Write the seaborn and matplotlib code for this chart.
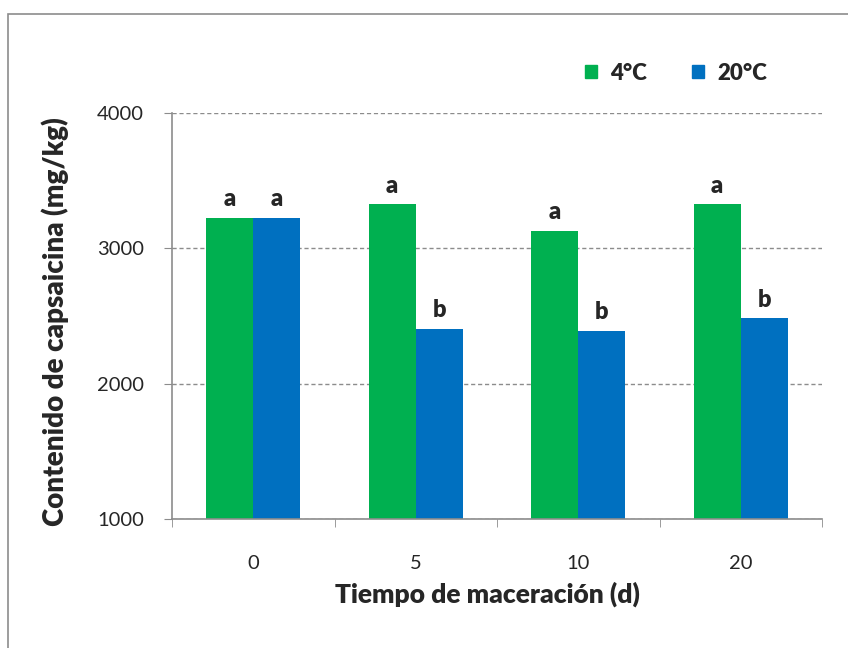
import numpy as np
import pandas as pd
import seaborn as sns
import matplotlib.pyplot as plt
from matplotlib.patches import Rectangle, Patch

# data
dias = ["0", "5", "10", "20"]
temp_4c = [3225, 3327, 3130, 3327]
temp_20c = [3225, 2405, 2390, 2485]
letras_4c = ["a", "a", "a", "a"]
letras_20c = ["a", "b", "b", "b"]
series = ["4°C", "20°C"]
colores = ["#00B050", "#0070C0"]

df = pd.DataFrame({
    "Dia": dias * 2,
    "Temp": [series[0]] * 4 + [series[1]] * 4,
    "Capsaicina": temp_4c + temp_20c,
})

sns.set_style("white")
plt.rcParams["font.family"] = ["Lato", "DejaVu Sans"]

fig = plt.figure(figsize=(8.48, 6.48), dpi=100)
ax = fig.add_axes([172 / 848, 129 / 648, 650 / 848, 406 / 648])

sns.barplot(data=df, x="Dia", y="Capsaicina", hue="Temp", order=dias,
            hue_order=series, palette=colores, width=0.58, gap=0,
            saturation=1, linewidth=0, legend=False, ax=ax)

ax.set_ylim(1000, 4000)
ax.set_xlim(-0.5, 3.5)
ax.set_yticks([1000, 2000, 3000, 4000])
ax.yaxis.grid(True, linestyle=(0, (3, 2)), color="#8c8c8c", linewidth=1)
ax.set_axisbelow(True)

# letters above bars
w = 0.58 / 2
for i in range(len(dias)):
    ax.text(i - w / 2, temp_4c[i] + 55, letras_4c[i], ha="center", va="bottom",
            fontsize=17, fontweight="heavy")
    ax.text(i + w / 2, temp_20c[i] + 55, letras_20c[i], ha="center", va="bottom",
            fontsize=17, fontweight="heavy")

for s in ["top", "right"]:
    ax.spines[s].set_visible(False)
for s in ["left", "bottom"]:
    ax.spines[s].set_color("#8c8c8c")
    ax.spines[s].set_linewidth(1.2)

ax.tick_params(axis="y", which="major", length=6, color="#8c8c8c", direction="out",
               left=True, labelsize=14.5, pad=14)
ax.set_xticks(np.arange(-0.5, 4.0, 1.0), minor=True)
ax.tick_params(axis="x", which="minor", length=6, color="#8c8c8c", direction="out", bottom=True)
ax.tick_params(axis="x", which="major", length=0, labelsize=14.5, pad=26)

ax.set_xlabel("Tiempo de maceración (d)", fontsize=19, fontweight="heavy")
ax.xaxis.set_label_coords(0.485, -0.155)
ax.set_ylabel("Contenido de capsaicina (mg/kg)", fontsize=20, fontweight="heavy")
ax.yaxis.set_label_coords(-0.158, 0.485)

handles = [Patch(color=c, label=s) for c, s in zip(colores, series)]
fig.legend(handles=handles, loc="center", bbox_to_anchor=(676 / 848, 1 - 73 / 648),
           ncol=2, frameon=False, prop={"size": 16, "weight": "heavy"},
           handlelength=0.55, handleheight=0.55, handletextpad=0.6, columnspacing=2.0)

fig.patches.append(Rectangle((8 / 848, -0.1), 2, 1.1 - 14 / 648, transform=fig.transFigure,
                             fill=False, edgecolor="#8c8c8c", linewidth=1.2))

fig.savefig("out.png", dpi=100)
